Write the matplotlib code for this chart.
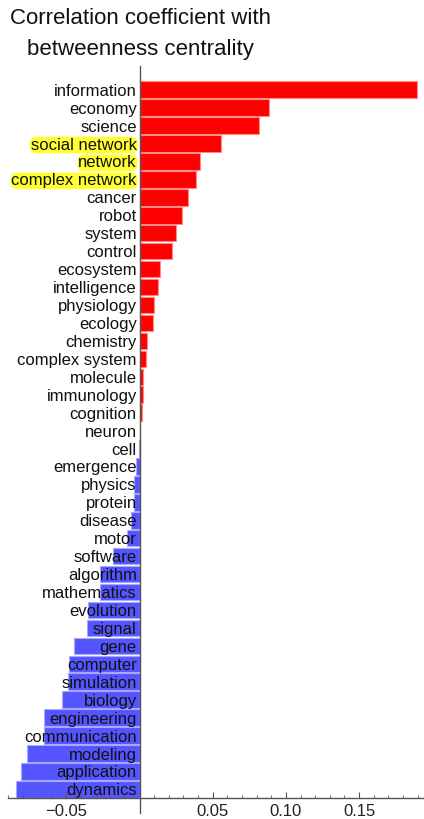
import matplotlib.pyplot as plt
import numpy as np

plt.rcParams['font.family'] = ['Liberation Sans', 'DejaVu Sans']

words = ["information", "economy", "science", "social network", "network",
         "complex network", "cancer", "robot", "system", "control",
         "ecosystem", "intelligence", "physiology", "ecology", "chemistry",
         "complex system", "molecule", "immunology", "cognition", "neuron",
         "cell", "emergence", "physics", "protein", "disease",
         "motor", "software", "algorithm", "mathematics", "evolution",
         "signal", "gene", "computer", "simulation", "biology",
         "engineering", "communication", "modeling", "application", "dynamics"]
corr = [0.1894, 0.0888, 0.0819, 0.0556, 0.0412,
        0.0389, 0.0332, 0.0291, 0.0247, 0.0224,
        0.0137, 0.0128, 0.0101, 0.0094, 0.0050,
        0.0043, 0.0025, 0.0023, 0.0018, 0.0002,
        -0.0005, -0.0027, -0.0037, -0.0040, -0.0060,
        -0.0085, -0.0183, -0.0268, -0.0270, -0.0352,
        -0.0360, -0.0449, -0.0480, -0.0488, -0.0527,
        -0.0650, -0.0655, -0.0767, -0.0810, -0.0845]
highlighted = ["social network", "network", "complex network"]
major_ticks = [-0.05, 0.05, 0.10, 0.15]
tick_labels = ["\u22120.05", "0.05", "0.10", "0.15"]

fig = plt.figure(figsize=(4.24, 8.19), dpi=100)
ax = fig.add_axes([0, 0, 1, 1])

pos = np.arange(len(words))
colors = ['#ff0000' if c >= 0 else '#5555ff' for c in corr]
edges = ['#ff8a8a' if c >= 0 else '#a8a8ff' for c in corr]
ax.barh(pos, corr, height=0.92, color=colors, edgecolor=edges, linewidth=0.8, zorder=1)

ax.set_xlim(-0.0954, 0.1944)
ax.set_ylim(40.65, -5.0)

for s in ['top', 'right']:
    ax.spines[s].set_visible(False)
ax.spines['left'].set_position(('data', 0))
ax.spines['left'].set_bounds(-1.3, 40.3)
ax.spines['bottom'].set_position(('data', 39.5))
ax.spines['bottom'].set_bounds(-0.0897, 0.1944)
for s in ['left', 'bottom']:
    ax.spines[s].set_color('#555555')
    ax.spines[s].set_linewidth(1.0)
    ax.spines[s].set_zorder(3)

ax.set_yticks(pos)
ax.set_yticklabels(words, fontsize=12, color='#111111')
ax.tick_params(axis='y', length=0, pad=2)
for lbl in ax.get_yticklabels():
    if lbl.get_text() in highlighted:
        lbl.set_bbox(dict(boxstyle='round,pad=0.05,rounding_size=0.4',
                          facecolor='#ffff33', edgecolor='none'))

ax.set_xticks(major_ticks)
ax.set_xticklabels(tick_labels, fontsize=12, color='#222222')
ax.set_xticks(np.arange(-0.09, 0.195, 0.01), minor=True)
ax.tick_params(axis='x', which='major', direction='in', length=4, width=0.8,
               color='#555555', pad=4)
ax.tick_params(axis='x', which='minor', direction='in', length=2.2, width=0.6,
               color='#555555')

fig.text(140 / 424, 1 - 18 / 819, "Correlation coefficient with",
         ha='center', va='center', fontsize=16, color='#111111')
fig.text(140 / 424, 1 - 49 / 819, "betweenness centrality",
         ha='center', va='center', fontsize=16, color='#111111')

fig.savefig("out.png", dpi=100)
